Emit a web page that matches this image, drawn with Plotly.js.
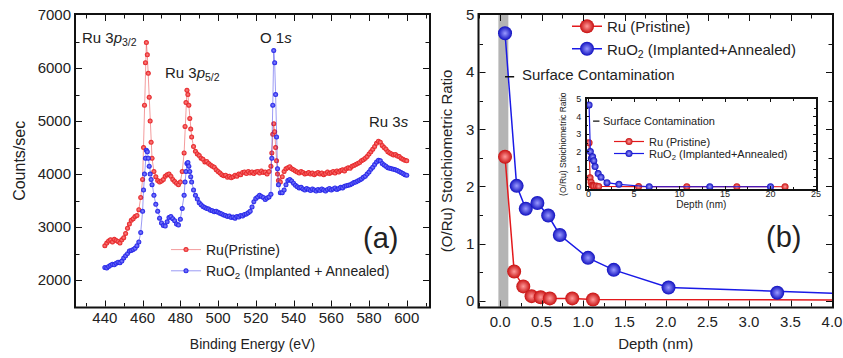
<!DOCTYPE html>
<html><head><meta charset="utf-8">
<script src="https://cdn.plot.ly/plotly-3.0.1.min.js"></script>
<style>html,body{margin:0;padding:0;background:#fff}#chart{position:relative;width:843px;height:358px}</style>
</head><body><div id="chart"></div>
<script>
// ---------- Panel (a): XPS survey ----------
const bindingEnergy = [
  440,441,442,443,444,445,446,447,448,449,
  450,451,452,453,454,455,456,457,458,459,
  460,460.5,461,461.5,462,462.5,463,463.5,464,464.5,
  465,466,467,468,469,470,471,472,473,474,
  475,476,477,478,479,480,481,482,482.5,483,
  483.5,484,484.5,485,485.5,486,487,488,489,490,
  491,492,493,494,495,496,497,498,499,500,
  501,502,503,504,505,506,507,508,509,510,
  511,512,513,514,515,516,517,518,519,520,
  521,522,523,524,525,526,527,528,528.5,529,
  529.5,530,530.5,531,531.5,532,533,534,535,536,
  537,538,539,540,541,542,543,544,545,546,
  547,548,549,550,551,552,553,554,555,556,
  557,558,559,560,561,562,563,564,565,566,
  567,568,569,570,571,572,573,574,575,576,
  577,578,579,580,581,582,583,584,585,586,
  587,588,589,590,591,592,593,594,595,596,
  597,598,599,600
];
const ruPristineCounts = [
  2650,2700,2740,2760,2720,2770,2750,2730,2700,2760,
  2800,2880,2980,3060,3130,3160,3200,3220,3330,3560,
  3900,4500,5300,6100,6480,6250,5900,5450,5000,4600,
  4300,4050,3950,3880,3850,3870,3900,3960,3990,4000,
  3960,3900,3860,3830,3800,3850,4050,4400,4900,5350,
  5580,5500,5300,5050,4850,4700,4520,4430,4380,4350,
  4300,4280,4230,4240,4200,4170,4150,4130,4080,4050,
  4020,3990,3970,3980,3940,3960,3930,3950,3980,3960,
  4000,3990,4030,4040,4010,4050,4020,4040,4010,4040,
  4050,4020,4060,4030,4040,4000,4050,4150,4400,4750,
  4950,4800,4500,4250,4000,3880,3850,3950,4050,4100,
  4120,4140,4100,4080,4060,4040,4020,4050,4030,4000,
  4010,4030,4000,4020,3990,4010,4030,4000,4020,3990,
  4010,4040,4010,4030,4050,4020,4060,4040,4070,4080,
  4060,4100,4120,4110,4150,4160,4180,4200,4220,4250,
  4270,4300,4330,4380,4420,4470,4520,4580,4620,4600,
  4540,4500,4470,4420,4400,4380,4360,4370,4340,4330,
  4300,4280,4260,4250
];
const ruO2Counts = [
  2240,2230,2260,2280,2300,2290,2320,2340,2330,2360,
  2420,2460,2500,2550,2560,2580,2600,2650,2720,2900,
  3300,3700,4000,4300,4450,4420,4300,4150,4000,3900,
  3800,3600,3430,3300,3170,3080,3030,3020,3100,3180,
  3200,3160,3120,3060,3040,3150,3350,3600,3850,4050,
  4200,4220,4150,4050,3950,3850,3700,3600,3530,3460,
  3420,3390,3370,3350,3340,3320,3310,3290,3300,3280,
  3260,3250,3230,3220,3200,3210,3180,3190,3170,3200,
  3190,3220,3210,3240,3250,3270,3300,3380,3480,3540,
  3570,3600,3580,3560,3520,3550,3570,3620,4300,5300,
  6330,6100,5500,4700,4100,3800,3650,3650,3700,3800,
  3880,3900,3870,3830,3790,3760,3740,3750,3720,3700,
  3730,3710,3690,3720,3700,3680,3710,3690,3720,3700,
  3680,3710,3730,3700,3720,3740,3710,3730,3750,3740,
  3770,3780,3790,3800,3820,3840,3850,3870,3890,3910,
  3940,3960,4000,4040,4090,4130,4180,4230,4260,4250,
  4200,4170,4150,4120,4110,4100,4090,4080,4070,4050,
  4030,4010,3990,3980
];
const peakLabels = ['Ru 3<i>p</i><sub>3/2</sub>','Ru 3<i>p</i><sub>5/2</sub>','O 1<i>s</i>','Ru 3<i>s</i>'];

// ---------- Panel (b): depth profile ----------
const ruDepth   = [0.06,0.17,0.28,0.38,0.49,0.60,0.87,1.12,5.5,10.8,16.3,21.6];
const ruRatio   = [2.52,0.51,0.25,0.08,0.06,0.04,0.04,0.02,0.01,0.0,0.0,0.0];
const ruO2Depth = [0.06,0.20,0.31,0.45,0.58,0.72,1.06,1.37,2.03,3.34,6.67,13.33,20.0];
const ruO2Ratio = [4.68,2.01,1.61,1.71,1.49,1.15,0.75,0.54,0.23,0.14,0.0,0.0,0.0];
const contaminationBand = [-0.02, 0.10];

// tick positions (axis config) for the two main panels' frames
const energyMajorTicks = [440,460,480,500,520,540,560,580,600];
const energyMinorTicks = [430,450,470,490,510,530,550,570,590,610];
const countsMajorTicks = [2000,3000,4000,5000,6000];
const countsMinorTicks = [2500,3500,4500,5500,6500];
const depthMajorTicks  = [0,0.5,1,1.5,2,2.5,3,3.5];
const depthMinorTicks  = [-0.25,0.25,0.75,1.25,1.75,2.25,2.75,3.25,3.75];
const ratioMajorTicks  = [0,1,2,3,4];
const ratioMinorTicks  = [0.5,1.5,2.5,3.5,4.5];

const RED = '#e3191c', BLUE = '#1a1ae6';
const FONT = 'Liberation Sans, Arial, sans-serif';
const TXT = '#222';
const INK = '#111111';
const W = 843, H = 358;
const px = v => v / W, py = v => 1 - v / H;
const CLEAR = 'rgba(0,0,0,0)';

function axis(o) {
  return Object.assign({
    showline: true, linecolor: CLEAR, linewidth: 2, mirror: 'ticks',
    ticks: 'inside', ticklen: 5, tickwidth: 1, tickcolor: CLEAR,
    showgrid: false, zeroline: false,
    tickfont: {family: FONT, size: 15, color: TXT}
  }, o);
}
function minorT(d, len, col) {
  return {ticks: 'inside', ticklen: len || 3, tickwidth: 1, tickcolor: col || CLEAR, dtick: d};
}

const traces = [
  {x: bindingEnergy, y: ruPristineCounts, xaxis: 'x', yaxis: 'y', mode: 'lines+markers',
   name: 'Ru(Pristine)', legend: 'legend',
   line: {color: 'rgba(227,25,28,0.55)', width: 0.8},
   marker: {size: 5, color: RED, gradient: {type: 'radial', color: '#ff8a8a'}}},
  {x: bindingEnergy, y: ruO2Counts, xaxis: 'x', yaxis: 'y', mode: 'lines+markers',
   name: 'RuO<sub>2</sub> (Implanted + Annealed)', legend: 'legend',
   line: {color: 'rgba(26,26,230,0.55)', width: 0.8},
   marker: {size: 5, color: BLUE, gradient: {type: 'radial', color: '#8a8aff'}}},
  {x: ruDepth, y: ruRatio, xaxis: 'x2', yaxis: 'y2', mode: 'lines+markers',
   name: 'Ru (Pristine)', legend: 'legend2',
   line: {color: RED, width: 1.5},
   marker: {size: 14, color: '#c81010', gradient: {type: 'radial', color: '#ff9a9a'}}},
  {x: ruO2Depth, y: ruO2Ratio, xaxis: 'x2', yaxis: 'y2', mode: 'lines+markers',
   name: 'RuO<sub>2</sub> (Implanted+Annealed)', legend: 'legend2',
   line: {color: BLUE, width: 1.5},
   marker: {size: 14, color: '#1010c0', gradient: {type: 'radial', color: '#9a9aff'}}},
  {x: ruDepth, y: ruRatio, xaxis: 'x3', yaxis: 'y3', mode: 'lines+markers',
   name: 'Ru (Pristine)', legend: 'legend3',
   line: {color: RED, width: 1.2},
   marker: {size: 7, color: '#c81010', gradient: {type: 'radial', color: '#ff9a9a'}}},
  {x: ruO2Depth, y: ruO2Ratio, xaxis: 'x3', yaxis: 'y3', mode: 'lines+markers',
   name: 'RuO<sub>2</sub> (Implanted+Annealed)', legend: 'legend4',
   line: {color: BLUE, width: 1.2},
   marker: {size: 7, color: '#1010c0', gradient: {type: 'radial', color: '#9a9aff'}}}
];

const legBase = {xanchor: 'left', yanchor: 'top', bgcolor: CLEAR, borderwidth: 0, tracegroupgap: 0};

const layout = {
  width: W, height: H,
  margin: {l: 0, r: 0, t: 0, b: 0},
  paper_bgcolor: '#ffffff', plot_bgcolor: '#ffffff',
  font: {family: FONT, color: TXT},
  xaxis: axis({domain: [px(76), px(429)], range: [424.7, 611.8], anchor: 'y',
    tick0: 440, dtick: 20, minor: minorT(10), ticklabelstandoff: -4,
    title: {text: 'Binding Energy (eV)', font: {family: FONT, size: 14, color: TXT}, standoff: 14}}),
  yaxis: axis({domain: [py(306.7), py(15)], range: [1500, 7000], anchor: 'x',
    dtick: 1000, minor: minorT(500),
    title: {text: 'Counts/sec', font: {family: FONT, size: 16, color: TXT}, standoff: 8}}),
  xaxis2: axis({domain: [px(479.3), px(832)], range: [-0.25, 4.0], anchor: 'y2',
    tick0: 0, dtick: 0.5, tickformat: '.1f', minor: minorT(0.25),
    title: {text: 'Depth (nm)', font: {family: FONT, size: 15, color: TXT}, standoff: 10}}),
  yaxis2: axis({domain: [py(306.7), py(15)], range: [-0.105, 5], anchor: 'x2',
    dtick: 1, minor: minorT(0.5),
    title: {text: '(O/Ru) Stoichiometric Ratio', font: {family: FONT, size: 15, color: TXT}, standoff: 10}}),
  xaxis3: axis({domain: [px(586.7), px(816)], range: [-0.2, 25], anchor: 'y3',
    dtick: 5, linewidth: 1.5, linecolor: INK, ticklen: 3, tickwidth: 1, tickcolor: INK, ticklabelstandoff: -5,
    tickfont: {family: FONT, size: 9, color: TXT}, minor: minorT(2.5, 2, INK),
    title: {text: 'Depth (nm)', font: {family: FONT, size: 10, color: TXT}, standoff: 0}}),
  yaxis3: axis({domain: [py(189), py(99.3)], range: [-0.13, 5], anchor: 'x3',
    dtick: 1, linewidth: 1.5, linecolor: INK, ticklen: 3, tickwidth: 1, tickcolor: INK, ticklabelstandoff: 2,
    tickfont: {family: FONT, size: 9, color: TXT}, minor: minorT(0.5, 2, INK),
    title: {text: '(O/Ru) Stoichiometric Ratio', font: {family: FONT, size: 8.5, color: TXT}, standoff: 8}}),
  legend: Object.assign({}, legBase, {x: px(166), y: py(234), font: {family: FONT, size: 14, color: TXT}}),
  legend2: Object.assign({}, legBase, {x: px(567), y: py(10), font: {family: FONT, size: 15, color: TXT}}),
  legend3: Object.assign({}, legBase, {x: px(609), y: py(127), font: {family: FONT, size: 11, color: TXT}}),
  legend4: Object.assign({}, legBase, {x: px(609), y: py(139), font: {family: FONT, size: 11, color: TXT}}),
  shapes: [
    {type: 'rect', xref: 'x2', yref: 'y2 domain', x0: contaminationBand[0], x1: contaminationBand[1], y0: 0, y1: 1,
     fillcolor: '#b4b4b4', line: {width: 0}, layer: 'below'},
    {type: 'line', xref: 'x2', yref: 'y2', x0: 0.06, x1: 0.17, y0: 3.92, y1: 3.92, line: {color: INK, width: 1.6}},
    {type: 'line', xref: 'x3', yref: 'y3', x0: 0.5, x1: 1.2, y0: 3.75, y1: 3.75, line: {color: INK, width: 1.3}}
  ],
  annotations: [
    {text: peakLabels[0], x: px(80), y: py(39), xref: 'paper', yref: 'paper', xanchor: 'left', yanchor: 'middle', showarrow: false, font: {size: 15}},
    {text: peakLabels[1], x: px(163), y: py(73), xref: 'paper', yref: 'paper', xanchor: 'left', yanchor: 'middle', showarrow: false, font: {size: 15}},
    {text: peakLabels[2], x: px(258), y: py(37), xref: 'paper', yref: 'paper', xanchor: 'left', yanchor: 'middle', showarrow: false, font: {size: 15}},
    {text: peakLabels[3], x: px(367), y: py(121), xref: 'paper', yref: 'paper', xanchor: 'left', yanchor: 'middle', showarrow: false, font: {size: 15}},
    {text: '(a)', x: px(380), y: py(238), xref: 'paper', yref: 'paper', xanchor: 'center', yanchor: 'middle', showarrow: false, font: {size: 29}},
    {text: '(b)', x: px(783), y: py(237), xref: 'paper', yref: 'paper', xanchor: 'center', yanchor: 'middle', showarrow: false, font: {size: 29}},
    {text: 'Surface Contamination', x: px(520), y: py(74), xref: 'paper', yref: 'paper', xanchor: 'left', yanchor: 'middle', showarrow: false, font: {size: 15}},
    {text: 'Surface Contamination', x: px(601), y: py(121), xref: 'paper', yref: 'paper', xanchor: 'left', yanchor: 'middle', showarrow: false, font: {size: 11}}
  ]
};

// Frames and inside ticks of the two main panels, positioned with Plotly's own axis scales
function drawFrames(gd) {
  const fl = gd._fullLayout;
  const NS = 'http://www.w3.org/2000/svg';
  const svg = document.createElementNS(NS, 'svg');
  svg.setAttribute('width', W); svg.setAttribute('height', H);
  svg.style.cssText = 'position:absolute;left:0;top:0;pointer-events:none;overflow:visible';
  const r = v => Math.round(v * 2) / 2;
  const add = (tag, attrs) => {
    const el = document.createElementNS(NS, tag);
    Object.keys(attrs).forEach(k => el.setAttribute(k, attrs[k]));
    svg.appendChild(el);
  };
  function panel(xa, ya, xMaj, xMin, yMaj, yMin) {
    const x0 = xa._offset, x1 = xa._offset + xa._length;
    const y0 = ya._offset, y1 = ya._offset + ya._length;
    add('rect', {x: r(x0 - 1), y: r(y0 - 1), width: r(x1 - x0 + 2), height: r(y1 - y0 + 2),
      fill: 'none', stroke: INK, 'stroke-width': 2});
    const tx = (vals, len) => vals.forEach(v => {
      const X = Math.round(xa._offset + xa.l2p(v)) + 0.5;
      add('path', {d: 'M' + X + ',' + r(y1) + 'v-' + len + 'M' + X + ',' + r(y0) + 'v' + len, stroke: INK, 'stroke-width': 1, fill: 'none'});
    });
    const ty = (vals, len) => vals.forEach(v => {
      const Y = Math.round(ya._offset + ya.l2p(v)) + 0.5;
      add('path', {d: 'M' + r(x0) + ',' + Y + 'h' + len + 'M' + r(x1) + ',' + Y + 'h-' + len, stroke: INK, 'stroke-width': 1, fill: 'none'});
    });
    tx(xMaj, 6); tx(xMin, 3.5); ty(yMaj, 6); ty(yMin, 3.5);
  }
  panel(fl.xaxis, fl.yaxis, energyMajorTicks, energyMinorTicks, countsMajorTicks, countsMinorTicks);
  panel(fl.xaxis2, fl.yaxis2, depthMajorTicks, depthMinorTicks, ratioMajorTicks, ratioMinorTicks);
  gd.appendChild(svg);
}

Plotly.newPlot('chart', traces, layout, {displayModeBar: false}).then(drawFrames);
</script>
</body></html>
